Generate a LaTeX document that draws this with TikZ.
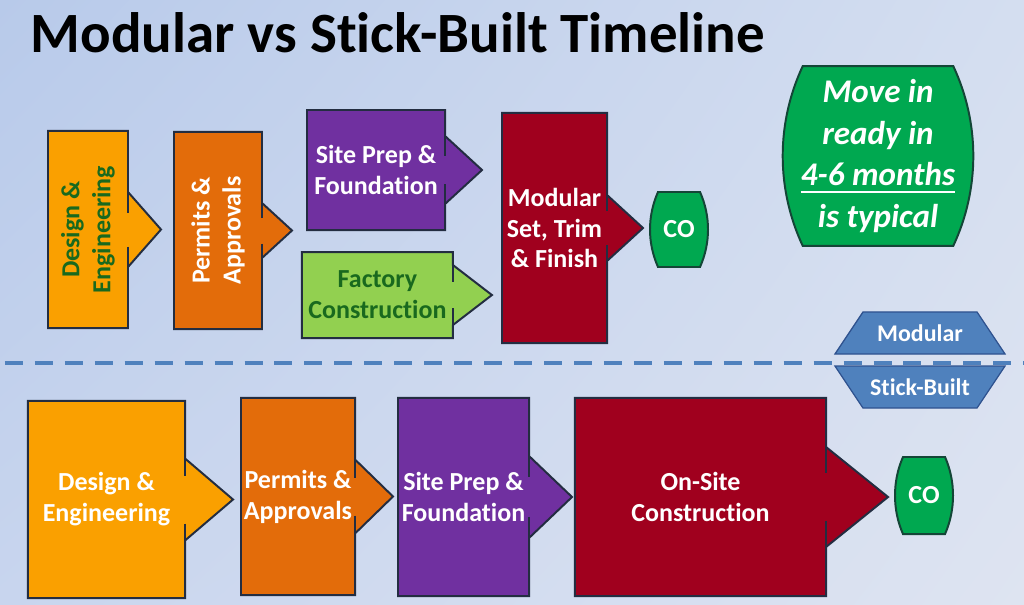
\documentclass[tikz,border=0pt]{standalone}
\usepackage{fontspec}
\setmainfont{Carlito}[Ligatures=NoCommon]
\usepackage{tikz}
\usetikzlibrary{positioning,shadings}
\pgfdeclarelayer{shapes}
\pgfsetlayers{shapes,main}
\definecolor{bgUL}{RGB}{184,202,234}
\definecolor{bgUR}{RGB}{212,222,240}
\definecolor{bgLL}{RGB}{200,213,238}
\definecolor{bgLR}{RGB}{222,228,241}
\definecolor{edge}{RGB}{35,45,65}
\definecolor{designorange}{RGB}{250,160,0}
\definecolor{permitorange}{RGB}{227,108,10}
\definecolor{siteviolet}{RGB}{112,48,160}
\definecolor{factorygreen}{RGB}{146,208,80}
\definecolor{buildred}{RGB}{160,0,30}
\definecolor{cogreen}{RGB}{0,168,80}
\definecolor{coedge}{RGB}{20,70,55}
\definecolor{txtgreen}{RGB}{25,105,30}
\definecolor{tagblue}{RGB}{79,129,189}
\definecolor{tagedge}{RGB}{47,82,143}
\newcommand{\stagefont}{\bfseries\fontsize{18.5}{22}\selectfont}
\newcommand{\strongul}[1]{\leavevmode\vtop{\hbox{#1}\kern3.5pt\hrule height 1.4pt}}
% box outline with the arrow head on its east side
\newcommand{\stagearrow}[5]{%
  \begin{pgfonlayer}{shapes}
    \draw[outline, fill=#2] (#1.north west) -- (#1.north east)
      -- ([shift={(0,-#3)}]#1.east) -- ([shift={(#5,0)}]#1.east)
      -- ([shift={(0,#3)}]#1.east) -- (#1.south east) -- (#1.south west) -- cycle;
    \draw[outline] ([shift={(0,-#3)}]#1.east) -- ([shift={(0,-#4)}]#1.east)
      ([shift={(0,#4)}]#1.east) -- ([shift={(0,#3)}]#1.east);
  \end{pgfonlayer}}
% flat top and bottom, bulging sides
\newcommand{\barrel}[5]{%
  \begin{pgfonlayer}{shapes}
    \draw[outline, draw=#3, fill=#2] ([shift={(#4,0)}]#1.north west) -- ([shift={(-#4,0)}]#1.north east)
      .. controls ([shift={(#4/3,#5)}]#1.north east) and ([shift={(#4/3,-#5)}]#1.south east) .. ([shift={(-#4,0)}]#1.south east)
      -- ([shift={(#4,0)}]#1.south west)
      .. controls ([shift={(-#4/3,-#5)}]#1.south west) and ([shift={(-#4/3,#5)}]#1.north west) .. cycle;
  \end{pgfonlayer}}

\begin{document}
\begin{tikzpicture}[x=0.025cm, y=-0.025cm,
  outline/.style={draw=edge, line width=1.4pt, line join=miter},
  stagebox/.style 2 args={minimum width=#1, minimum height=#2, inner sep=1pt, outer sep=0pt, align=center, text=white, font=\stagefont},
  cobox/.style 2 args={minimum width=#1, minimum height=#2, inner sep=1pt, outer sep=0pt, text=white, font=\stagefont},
  tagbox/.style={minimum width=4.25cm, minimum height=1.05cm, inner sep=0pt, outer sep=0pt, text=white, font=\bfseries\fontsize{17}{19}\selectfont},
  tagshape/.style={draw=tagedge, line width=0.9pt, fill=tagblue},
  divider/.style={draw=tagblue, line width=2.8pt, dash pattern=on 12.8pt off 8.5pt, dash phase=-3.5pt}]

  \begin{pgfonlayer}{shapes}
    \shade[upper left=bgUL, upper right=bgUR, lower left=bgLL, lower right=bgLR] (0,0) rectangle (1024,604);
  \end{pgfonlayer}
  \useasboundingbox (0,0) rectangle (1024,604);

  \node[anchor=base west, font=\bfseries\fontsize{40.5}{48}\selectfont] (title) at (26,53) {Modular vs Stick-Built Timeline};

  % Modular
  \node[stagebox={2cm}{4.925cm}] (de1) at (88,229.5) {};
  \node[rotate=90, align=center, font=\stagefont, text=txtgreen] (de1label) at (de1.center) {Design \&\\Engineering};
  \node[stagebox={2.2cm}{4.925cm}] (pa1) at (218,230.5) {};
  \node[rotate=90, align=center, font=\stagefont, text=white] (pa1label) at (pa1.center) {Permits \&\\Approvals};
  \node[stagebox={3.45cm}{3cm}] (sp1) at (376,170) {Site Prep \&\\Foundation};
  \node[stagebox={3.775cm}{2.15cm}, text=txtgreen, below=0.55cm of sp1.south, anchor=north, xshift=1pt] (fc1) {Factory\\Construction};
  \node[stagebox={2.625cm}{5.75cm}] (ms1) at (554.5,228) {Modular\\Set, Trim\\\& Finish};
  \node[cobox={1.45cm}{1.875cm}] (co1) at (679,229.5) {CO};
  \stagearrow{de1}{designorange}{37.5}{17}{33}
  \stagearrow{pa1}{permitorange}{27.5}{13}{30}
  \stagearrow{sp1}{siteviolet}{34}{14}{37}
  \stagearrow{fc1}{factorygreen}{30}{13}{39}
  \stagearrow{ms1}{buildred}{33}{17}{36}
  \barrel{co1}{cogreen}{coedge}{8}{24}

  \node[minimum width=4.75cm, minimum height=4.475cm, inner sep=0pt, align=center, text=white,
    font=\bfseries\itshape\fontsize{23.5}{29.8}\selectfont] (movein) at (878,156)
    {Move in\\ready in\\\strongul{4-6 months}\\is typical};
  \barrel{movein}{cogreen}{coedge}{20}{57}

  % divider and labels
  \coordinate (divL) at (0,363);
  \coordinate (divR) at (1024,363);
  \draw[divider] (divL) -- (divR);
  \node[tagbox] (mod) at (920,333) {Modular};
  \node[tagbox, below=0.3cm of mod] (stk) {Stick-Built};
  \begin{pgfonlayer}{shapes}
    \draw[tagshape] ([shift={(28,0)}]mod.north west) -- ([shift={(-28,0)}]mod.north east) -- (mod.south east) -- (mod.south west) -- cycle;
    \draw[tagshape] (stk.north west) -- (stk.north east) -- ([shift={(-28,0)}]stk.south east) -- ([shift={(28,0)}]stk.south west) -- cycle;
  \end{pgfonlayer}

  % Stick-Built
  \node[stagebox={3.925cm}{4.925cm}] (de2) at (106.5,499.5) {Design \&\\Engineering};
  \node[stagebox={2.85cm}{4.925cm}] (pa2) at (298,496.5) {Permits \&\\Approvals};
  \node[stagebox={3.275cm}{4.95cm}] (sp2) at (463.5,497) {Site Prep \&\\Foundation};
  \node[stagebox={6.275cm}{4.95cm}] (os2) at (700.5,497) {On-Site\\Construction};
  \node[cobox={1.45cm}{1.925cm}] (co2) at (924,495.5) {CO};
  \stagearrow{de2}{designorange}{41}{24}{48}
  \stagearrow{pa2}{permitorange}{37}{19}{38}
  \stagearrow{sp2}{siteviolet}{41}{20}{43}
  \stagearrow{os2}{buildred}{50}{24}{62}
  \barrel{co2}{cogreen}{coedge}{8}{24}
\end{tikzpicture}
\end{document}
